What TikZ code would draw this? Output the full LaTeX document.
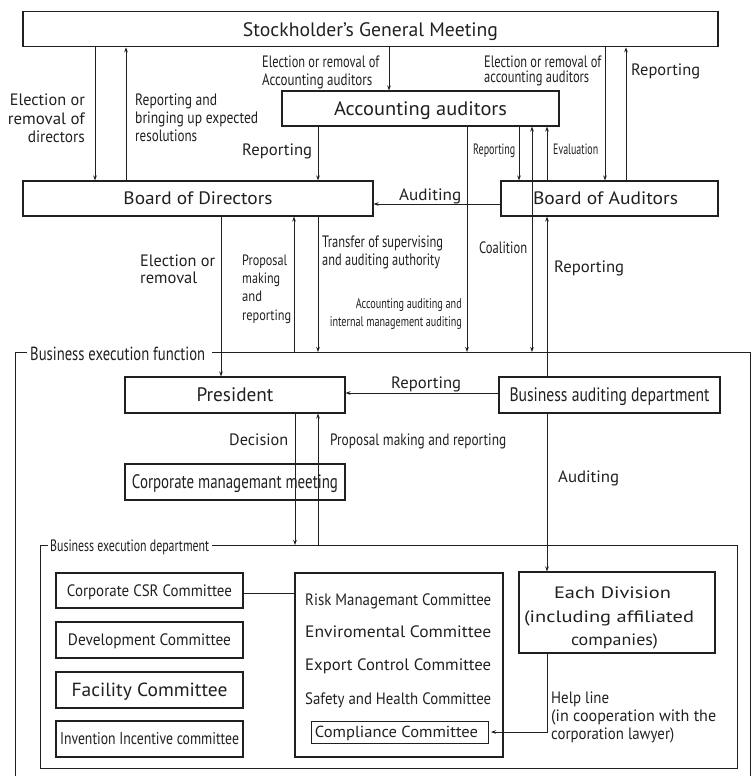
\documentclass[tikz,border=0pt]{standalone}
\usepackage{fontspec}
\setmainfont{PT Sans}
\usepackage{graphicx}
\usetikzlibrary{arrows.meta}
\definecolor{ink}{HTML}{231F20}
\newcommand\tw[2]{\resizebox{#1pt}{\height}{#2}}
\begin{document}
\begin{tikzpicture}[x=1pt,y=-1pt,
  every node/.style={text=ink},
  box/.style={draw=ink, line width=1.1pt, inner sep=0pt, text depth=0pt},
  fbig/.style={font=\fontsize{19.5}{22}\selectfont, text height=13.6pt},
  fmed/.style={font=\fontsize{18}{21}\selectfont, text height=12.6pt},
  fsm/.style={font=\fontsize{16.5}{19}\selectfont, text height=11.5pt},
  arr/.style={draw=ink, line width=0.8pt, -{Stealth[length=5pt,width=3.6pt]}},
  darr/.style={draw=ink, line width=0.8pt, {Stealth[length=5pt,width=3.6pt]}-{Stealth[length=5pt,width=3.6pt]}},
  ln/.style={draw=ink, line width=0.8pt},
  frm/.style={draw=ink, line width=1pt},
  lab/.style={inner sep=0pt, font=\fontsize{16.5}{19}\selectfont},
  labs/.style={inner sep=0pt, font=\fontsize{15}{17}\selectfont}]
\useasboundingbox (0,0) rectangle (752,776);

% ---------- boxes ----------
\node[box,fbig,minimum width=695pt,minimum height=35pt] (sgm) at (370.5,29.3) {\tw{255}{Stockholder’s General Meeting}};
\node[box,fbig,minimum width=277pt,minimum height=35pt] (acc) at (420.5,108.5) {\tw{173}{Accounting auditors}};
\node[box,fmed,minimum width=350pt,minimum height=35pt] (bod) at (198,198.5) {\tw{149}{Board of Directors}};
\node[box,fmed,minimum width=217pt,minimum height=35pt] (boa) at (609.5,198.5) {\tw{145}{Board of Auditors}\hspace*{8pt}};
\node[box,fbig,minimum width=220pt,minimum height=36pt] (pres) at (235,395) {\tw{77}{President}};
\node[box,fbig,minimum width=221pt,minimum height=36pt] (bad) at (609.5,395) {\tw{200}{Business auditing department}};
\node[box,fbig,minimum width=220pt,minimum height=36pt] (cmm) at (235,482) {\tw{206}{Corporate managemant meeting}};
\node[box,fsm,minimum width=187pt,minimum height=35pt] (csr) at (149.5,590.5) {\tw{165}{Corporate CSR Committee}};
\node[box,fsm,minimum width=187pt,minimum height=36pt] (dev) at (149.5,640) {\tw{163}{Development Committee}};
\node[box,font=\fontsize{19}{22}\selectfont,text height=13.3pt,minimum width=187pt,minimum height=36pt] (fac) at (149.5,690) {\tw{156}{Facility Committee}};
\node[box,font=\fontsize{17}{20}\selectfont,text height=11.9pt,minimum width=187pt,minimum height=36pt] (inv) at (149.5,739) {\tw{179}{Invention Incentive committee}};
\node[box,minimum width=208pt,minimum height=184pt] (mid) at (399,665) {};
\node[box,line width=0.8pt,font=\fontsize{16}{19}\selectfont,text height=11.2pt,minimum width=177pt,minimum height=22pt] (comp) at (399.5,732) {\tw{163}{Compliance Committee}\hspace*{6pt}};
\node[box,minimum width=196pt,minimum height=81pt] (div) at (617,612.5) {};

% ---------- frames ----------
\coordinate (ftop) at (0,352);
\coordinate (dtop) at (0,545);
\draw[frm] (27,352) -- (15,352) -- (15,790);
\draw[frm] (212,352) -- (750,352) -- (750,790);
\draw[frm] (48,545) -- (40,545) -- (40,768) -- (737,768) -- (737,545) -- (212,545);
\node[inner sep=0pt,anchor=base west,font=\fontsize{19}{22}\selectfont] (fl) at (30,360) {\tw{175}{Business execution function}};
\node[lab,anchor=base west] (dl) at (50,551) {\tw{159}{Business execution department}};

% ---------- x positions ----------
\foreach \xx in {95,126,221,294,295,318,389,467,519,532,547,605,626}
  \coordinate (X\xx) at (\xx,0);
\coordinate (Y204) at (0,204);
\coordinate (Y393) at (0,393);
\coordinate (Y593) at (0,593);

% ---------- connectors ----------
\draw[arr] (X95 |- sgm.south) -- (X95 |- bod.north);
\draw[arr] (X126 |- bod.north) -- (X126 |- sgm.south);
\draw[arr] (X389 |- sgm.south) -- (X389 |- acc.north);
\draw[arr] (X318 |- acc.south) -- (X318 |- bod.north);
\draw[arr] (X605 |- sgm.south) -- (X605 |- boa.north);
\draw[arr] (X626 |- boa.north) -- (X626 |- sgm.south);
\draw[arr] (X519 |- acc.south) -- (X519 |- boa.north);
\draw[darr] (X532 |- acc.south) -- (X532 |- ftop);
\draw[arr] (X547 |- boa.north) -- (X547 |- acc.south);
\draw[arr] (X467 |- acc.south) -- (X467 |- ftop);
\draw[arr] (Y204 -| boa.west) -- (Y204 -| bod.east);
\draw[arr] (X221 |- bod.south) -- (X221 |- pres.north);
\draw[arr] (X294 |- ftop) -- (X294 |- bod.south);
\draw[arr] (X318 |- bod.south) -- (X318 |- ftop);
\draw[arr] (X547 |- bad.north) -- (X547 |- boa.south);
\draw[arr] (Y393 -| bad.west) -- (Y393 -| pres.east);
\draw[arr] (X295 |- pres.south) -- (X295 |- dtop);
\draw[arr] (X318 |- dtop) -- (X318 |- pres.south);
\draw[arr] (X547 |- bad.south) -- (X547 |- div.north);
\draw[ln] (Y593 -| csr.east) -- (Y593 -| mid.west);
\draw[arr, shorten >=2.5pt] (X547 |- div.south) |- (comp.east);

% ---------- labels ----------
\node[lab,anchor=base east] (a1) at (85,106) {\tw{75}{Election or}};
\node[lab,anchor=base east] (a2) at (85,124) {\tw{77}{removal of}};
\node[lab,anchor=base east] (a3) at (85,142) {\tw{57}{directors}};
\node[lab,anchor=base west] (b1) at (135,106) {\tw{82}{Reporting and}};
\node[lab,anchor=base west] (b2) at (135,123) {\tw{123}{bringing up expected}};
\node[lab,anchor=base west] (b3) at (135,141) {\tw{62}{resolutions}};
\node[lab,anchor=base west] (c1) at (262,68) {\tw{117}{Election or removal of}};
\node[lab,anchor=base west] (c2) at (262,85) {\tw{110}{Accounting auditors}};
\node[lab,anchor=base west] (d1) at (242,155) {\tw{70}{Reporting}};
\node[lab,anchor=base west] (e1) at (484,67) {\tw{117}{Election or removal of}};
\node[lab,anchor=base west] (e2) at (484,82) {\tw{105}{accounting auditors}};
\node[lab,anchor=base west] (f1) at (631,76) {\tw{69}{Reporting}};
\node[labs,anchor=base west] (g1) at (473,154) {\tw{42}{Reporting}};
\node[labs,anchor=base west] (h1) at (553,154) {\tw{45}{Evaluation}};
\node[lab,anchor=base west] (i1) at (399,200) {\tw{62}{Auditing}};
\node[lab,anchor=base west] (j1) at (140,266) {\tw{75}{Election or}};
\node[lab,anchor=base west] (j2) at (140,283) {\tw{57}{removal}};
\node[labs,anchor=base west] (k1) at (242,265) {\tw{45}{Proposal}};
\node[labs,anchor=base west] (k2) at (242,283.3) {\tw{38}{making}};
\node[labs,anchor=base west] (k3) at (242,301.7) {\tw{20}{and}};
\node[labs,anchor=base west] (k4) at (242,320) {\tw{49}{reporting}};
\node[lab,anchor=base west] (m1) at (322,247) {\tw{121}{Transfer of supervising}};
\node[lab,anchor=base west] (m2) at (322,265) {\tw{118}{and auditing authority}};
\node[font=\fontsize{14}{16}\selectfont,inner sep=0pt,anchor=base east] (n1) at (462,308) {\tw{106}{Accounting auditing and}};
\node[font=\fontsize{14}{16}\selectfont,inner sep=0pt,anchor=base east] (n2) at (462,326.5) {\tw{132}{internal management auditing}};
\node[lab,anchor=base west] (o1) at (479,253) {\tw{48}{Coalition}};
\node[lab,anchor=base west] (p1) at (554,272) {\tw{70}{Reporting}};
\node[lab,anchor=base west] (q1) at (391,388.5) {\tw{70}{Reporting}};
\node[lab,anchor=base west] (r1) at (229,445) {\tw{59}{Decision}};
\node[lab,anchor=base west] (s1) at (330,445) {\tw{176}{Proposal making and reporting}};
\node[lab,anchor=base west] (t1) at (558,482) {\tw{61}{Auditing}};
\node[lab,anchor=base west] (u1) at (305,605) {\tw{186}{Risk Managemant Committee}};
\node[lab,anchor=base west] (u2) at (305,637) {\tw{186}{Enviromental Committee}};
\node[lab,anchor=base west] (u3) at (305,670.5) {\tw{186}{Export Control Committee}};
\node[lab,anchor=base west] (u4) at (305,704) {\tw{186}{Safety and Health Committee}};
\node[lab,anchor=base] (v1) at (612.5,598) {\tw{117}{Each Division}};
\node[lab,anchor=base] (v2) at (609,622) {\tw{170}{(including affiliated}};
\node[lab,anchor=base] (v3) at (614.5,645) {\tw{87}{companies)}};
\node[lab,anchor=base west] (w1) at (551,703) {\tw{58}{Help line}};
\node[lab,anchor=base west] (w2) at (551,721) {\tw{165}{(in cooperation with the}};
\node[lab,anchor=base west] (w3) at (551,739) {\tw{123}{corporation lawyer)}};
\end{tikzpicture}
\end{document}
